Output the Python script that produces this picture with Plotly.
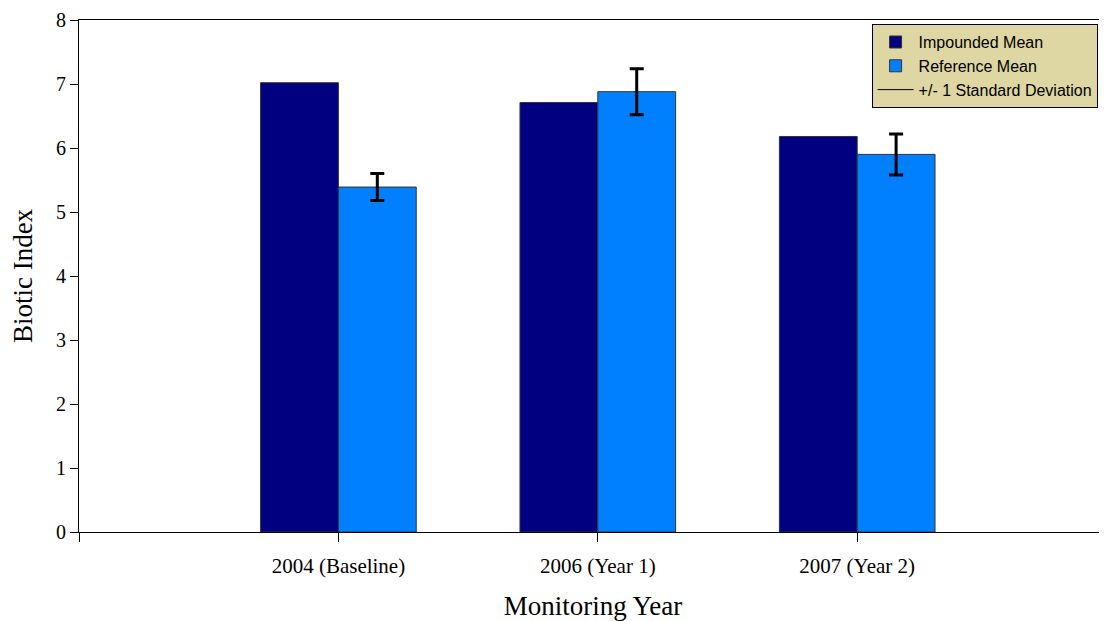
import plotly.graph_objects as go

categories = ["2004 (Baseline)", "2006 (Year 1)", "2007 (Year 2)"]
impounded_mean = [7.02, 6.71, 6.18]
reference_mean = [5.39, 6.88, 5.90]
reference_sd = [0.21, 0.36, 0.32]
y_ticks = [0, 1, 2, 3, 4, 5, 6, 7, 8]

xpos = list(range(len(categories)))

fig = go.Figure()
fig.add_trace(go.Bar(
    x=xpos, y=impounded_mean, name="Impounded Mean",
    marker=dict(color="#000080", line=dict(color="#333333", width=1)),
))
fig.add_trace(go.Bar(
    x=xpos, y=reference_mean, name="Reference Mean",
    marker=dict(color="#0080FF", line=dict(color="#333333", width=1)),
    error_y=dict(type="data", array=reference_sd, visible=True,
                 color="black", thickness=3, width=7),
))
fig.add_trace(go.Scatter(
    x=[None], y=[None], mode="lines", name="+/- 1 Standard Deviation",
    line=dict(color="black", width=1),
))

fig.update_layout(
    width=1099, height=613,
    margin=dict(l=71, r=0, t=12, b=89, autoexpand=False),
    plot_bgcolor="white", paper_bgcolor="white",
    barmode="group", bargap=0.4, bargroupgap=0,
    font=dict(family="Liberation Serif", color="black"),
    legend=dict(
        x=0.771, y=0.992, xanchor="left", yanchor="top",
        bgcolor="#DED6A3", bordercolor="black", borderwidth=1,
        font=dict(family="Liberation Sans", size=16, color="black"),
        tracegroupgap=0, itemwidth=36,
    ),
    xaxis=dict(
        range=[-1, 2.963], tickmode="array",
        tickvals=[-1] + xpos, ticktext=[""] + categories,
        ticks="outside", ticklen=9, tickcolor="black", tickwidth=1,
        ticklabelstandoff=6, automargin=False,
        showline=True, linecolor="black", linewidth=1, mirror=True,
        showgrid=False, zeroline=False,
        tickfont=dict(family="Liberation Serif", size=21),
        title=dict(text="Monitoring Year", font=dict(family="Liberation Serif", size=27), standoff=18),
    ),
    yaxis=dict(
        range=[0, 8], tickmode="array", tickvals=y_ticks,
        ticks="outside", ticklen=8, tickcolor="black", tickwidth=1,
        automargin=False,
        showline=True, linecolor="black", linewidth=1,
        showgrid=False, zeroline=False,
        tickfont=dict(family="Liberation Serif", size=20),
        title=dict(text="Biotic Index", font=dict(family="Liberation Serif", size=27), standoff=18),
    ),
)

fig.write_html("out.html")
